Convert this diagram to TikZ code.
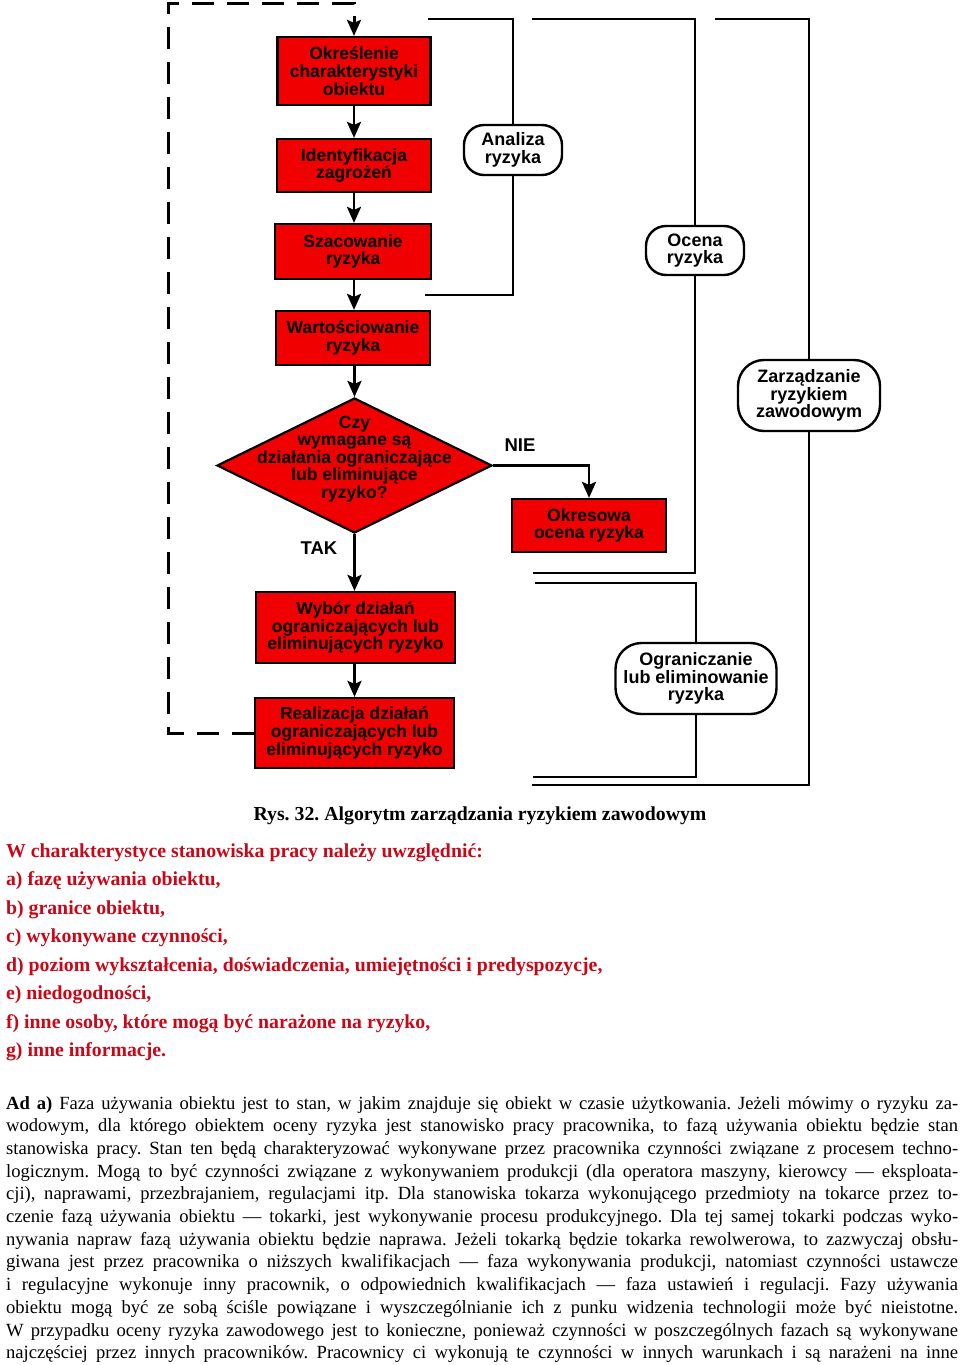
\documentclass[tikz,border=0pt]{standalone}
\usepackage{fontspec}
\setmainfont{Liberation Serif}
\newfontfamily\chartfont{Liberation Sans}
\usetikzlibrary{shapes.geometric, arrows.meta, positioning}
\definecolor{boxred}{RGB}{240,0,0}
\definecolor{listred}{RGB}{200,8,24}
\frenchspacing
\newcommand{\fullline}[1]{\hbox to 952pt{\spaceskip=0pt \xspaceskip=0pt #1}}

\begin{document}
\begin{tikzpicture}[x=1pt, y=-1pt, line width=2.2pt,
  >={Stealth[length=16pt,width=14pt,inset=3pt]},
  stepbox/.style={draw, fill=boxred, rectangle, align=center, inner sep=0pt, font=\chartfont\bfseries\fontsize{17.5}{17.8}\selectfont},
  pill/.style={draw, fill=white, rectangle, rounded corners=20pt, align=center, inner sep=0pt, line width=2.4pt, font=\chartfont\bfseries\fontsize{18}{17.6}\selectfont},
  decision/.style={draw, fill=boxred, diamond, inner sep=0pt, minimum width=275pt, minimum height=135pt},
  answer/.style={font=\chartfont\bfseries\fontsize{18.5}{20}\selectfont},
  flow/.style={->, line width=2.8pt},
  bracket/.style={line width=2.8pt},
  feedback/.style={->, line width=3pt, dash pattern=on 22pt off 13pt},
  bodytext/.style={inner sep=0pt, anchor=north west}]

\fill[white] (0,0) rectangle (960,1365);
\useasboundingbox (0,0) rectangle (960,1365);

% main column
\node[stepbox, minimum width=153pt, minimum height=68pt] (char) at (354,71) {Określenie\\charakterystyki\\obiektu};
\node[stepbox, minimum width=154pt, minimum height=53pt] (ident) at (354,165.5) {Identyfikacja\\zagrożeń};
\node[stepbox, minimum width=156pt, minimum height=55pt] (szac) at (353,251.5) {Szacowanie\\ryzyka};
\node[stepbox, minimum width=154pt, minimum height=54pt] (wart) at (353,338) {Wartościowanie\\ryzyka};
\node[decision, label={[yshift=6.5pt, align=center, font=\chartfont\bfseries\fontsize{17.5}{17.6}\selectfont]center:{Czy\\wymagane są\\działania ograniczające\\lub eliminujące\\ryzyko?}}] (czy) at (354.5,465.5) {};
\node[stepbox, minimum width=199pt, minimum height=71pt] (wyb) at (355.5,627.5) {Wybór działań\\ograniczających lub\\eliminujących ryzyko};
\node[stepbox, minimum width=199pt, minimum height=70pt] (real) at (354.5,733) {Realizacja działań\\ograniczających lub\\eliminujących ryzyko};
\node[stepbox, minimum width=154pt, minimum height=53pt] (okr) at (589,525.5) {Okresowa\\ocena ryzyka};

\node[answer] (nie) at (520,445) {NIE};
\node[answer] (tak) at (319,548) {TAK};

\draw[flow] (char) -- (ident);
\draw[flow] (ident) -- (szac.north -| ident);
\draw[flow] (szac.south -| ident) -- (wart.north -| ident);
\draw[flow] (wart.south -| czy) -- (czy.north);
\draw[flow] (czy.south) -- (wyb.north -| czy);
\draw[flow] (wyb.south -| czy) -- (real.north -| czy);
\draw[flow] (czy.east) -| (okr.north);

% feedback loop
\coordinate (loopTL) at (168,3);
\draw[feedback] (real.west) -| (loopTL) -| (char.north);

% brackets
\node[pill, minimum width=98pt, minimum height=50pt] (anal) at (513,150) {Analiza\\ryzyka};
\node[pill, minimum width=98pt, minimum height=49pt] (ocen) at (695,250.5) {Ocena\\ryzyka};
\node[pill, minimum width=142pt, minimum height=71pt, rounded corners=26pt] (zarz) at (809,395.5) {Zarządzanie\\ryzykiem\\zawodowym};
\node[pill, minimum width=161pt, minimum height=71pt, rounded corners=26pt] (ogr) at (696,678.5) {Ograniczanie\\lub eliminowanie\\ryzyka};

\coordinate (analT) at (428,19);
\coordinate (analB) at (425,295);
\coordinate (ocenT) at (532,19);
\coordinate (ocenB) at (533,573);
\coordinate (zarzT) at (715,19);
\coordinate (zarzB) at (532,785);
\coordinate (ogrT) at (535,583);
\coordinate (ogrB) at (533,777);

\draw[bracket] (analT) -| (anal.north);
\draw[bracket] (anal.south) |- (analB);
\draw[bracket] (ocenT) -| (ocen.north);
\draw[bracket] (ocen.south) |- (ocenB);
\draw[bracket] (zarzT) -| (zarz.north);
\draw[bracket] (zarz.south) |- (zarzB);
\draw[bracket] (ogrT) -| (ogr.north);
\draw[bracket] (ogr.south) |- (ogrB);

% caption and text
\node[font=\bfseries\fontsize{19.8}{22}\selectfont] (rys) at (480,816) {Rys. 32. Algorytm zarządzania ryzykiem zawodowym};

\node[bodytext, align=left, text=listred, font=\bfseries\fontsize{19.8}{28.5}\selectfont] (lista) at (5,842.5)
  {W charakterystyce stanowiska pracy należy uwzględnić:\\
   a) fazę używania obiektu,\\
   b) granice obiektu,\\
   c) wykonywane czynności,\\
   d) poziom wykształcenia, doświadczenia, umiejętności i predyspozycje,\\
   e) niedogodności,\\
   f) inne osoby, które mogą być narażone na ryzyko,\\
   g) inne informacje.};

\node[bodytext, text width=952pt, align=justify, font=\fontsize{18.6}{22.7}\selectfont] (ada) at (5,1095)
  {\fullline{\textbf{Ad a)} Faza używania obiektu jest to stan, w jakim znajduje się obiekt w czasie użytkowania. Jeżeli mówimy o ryzyku za-}
   \fullline{wodowym, dla którego obiektem oceny ryzyka jest stanowisko pracy pracownika, to fazą używania obiektu będzie stan}
   \fullline{stanowiska pracy. Stan ten będą charakteryzować wykonywane przez pracownika czynności związane z procesem techno-}
   \fullline{logicznym. Mogą to być czynności związane z wykonywaniem produkcji (dla operatora maszyny, kierowcy — eksploata-}
   \fullline{cji), naprawami, przezbrajaniem, regulacjami itp. Dla stanowiska tokarza wykonującego przedmioty na tokarce przez to-}
   \fullline{czenie fazą używania obiektu — tokarki, jest wykonywanie procesu produkcyjnego. Dla tej samej tokarki podczas wyko-}
   \fullline{nywania napraw fazą używania obiektu będzie naprawa. Jeżeli tokarką będzie tokarka rewolwerowa, to zazwyczaj obsłu-}
   \fullline{giwana jest przez pracownika o niższych kwalifikacjach — faza wykonywania produkcji, natomiast czynności ustawcze}
   \fullline{i~regulacyjne wykonuje inny pracownik, o~odpowiednich kwalifikacjach — faza ustawień i regulacji. Fazy używania}
   \fullline{obiektu mogą być ze sobą ściśle powiązane i wyszczególnianie ich z punku widzenia technologii może być nieistotne.}
   \fullline{W przypadku oceny ryzyka zawodowego jest to konieczne, ponieważ czynności w poszczególnych fazach są wykonywane}
   \fullline{najczęściej przez innych pracowników. Pracownicy ci wykonują te czynności w innych warunkach i są narażeni na inne}};
\end{tikzpicture}
\end{document}
